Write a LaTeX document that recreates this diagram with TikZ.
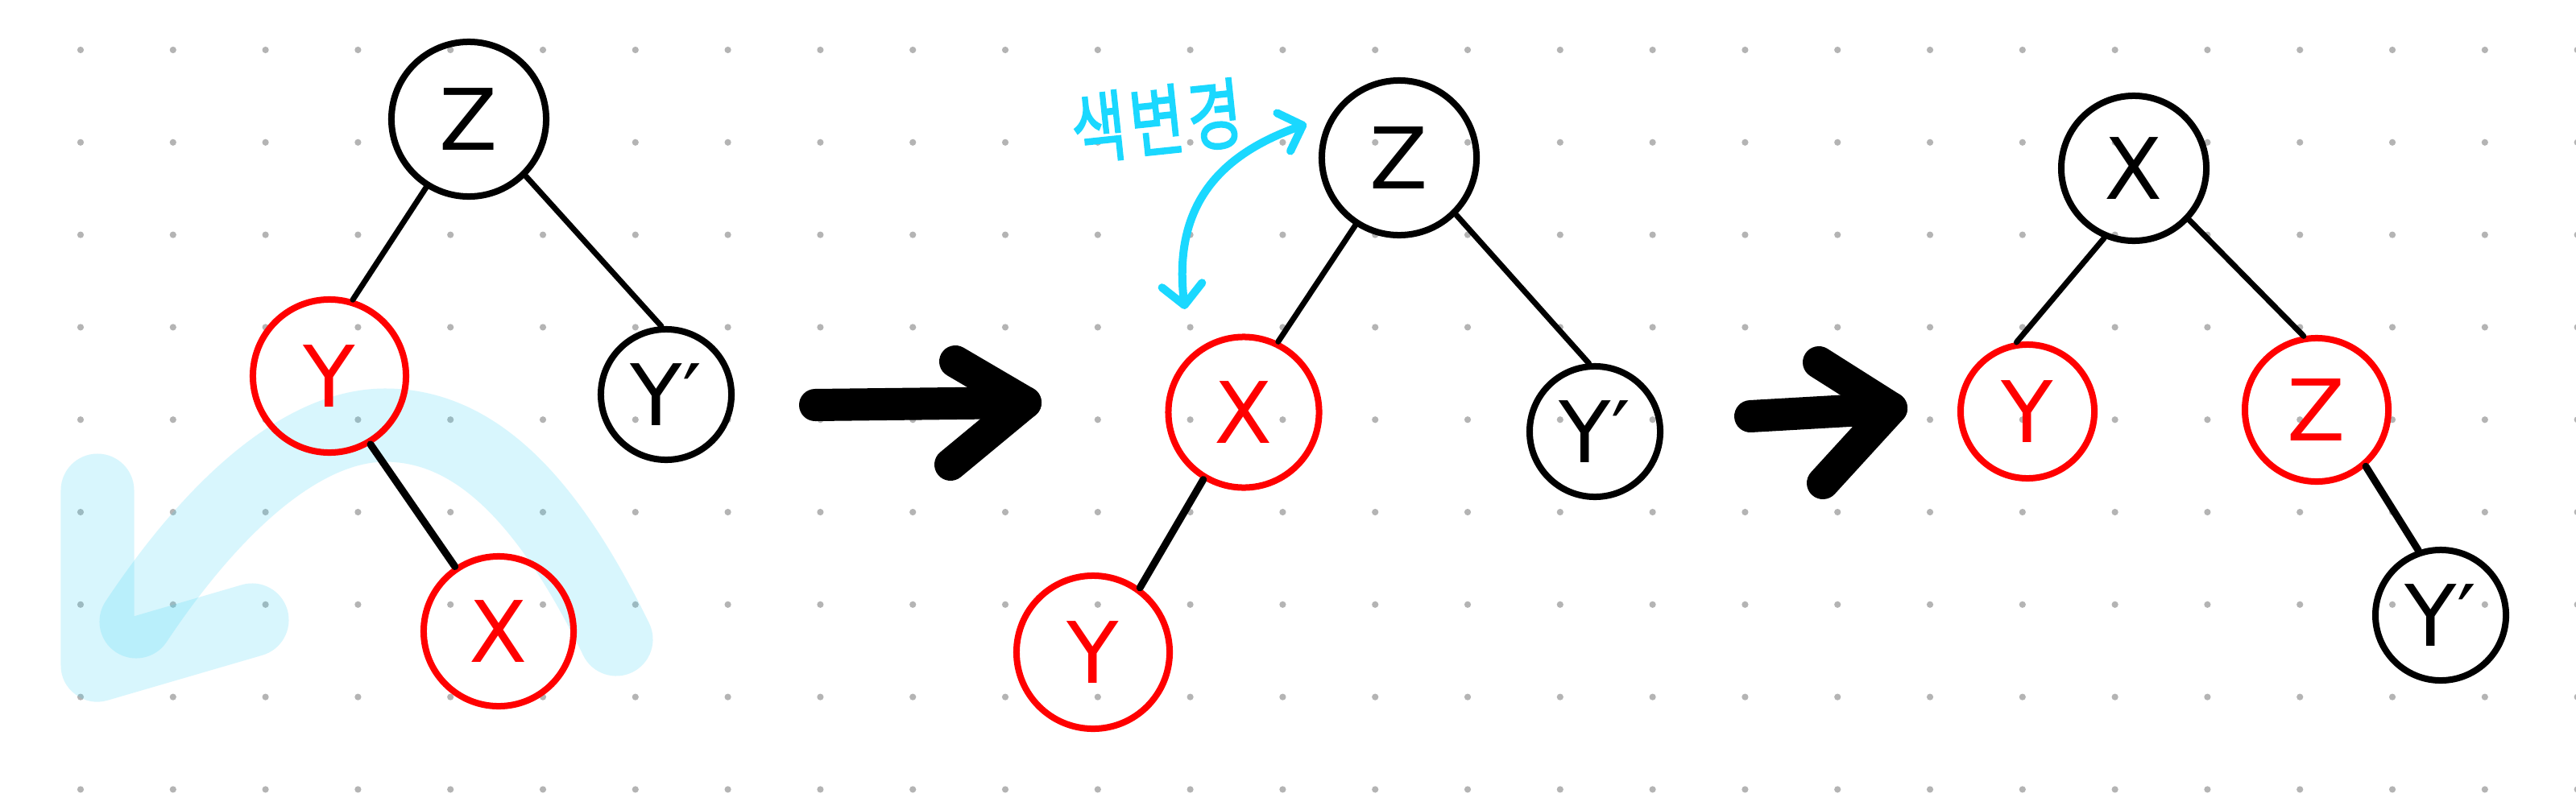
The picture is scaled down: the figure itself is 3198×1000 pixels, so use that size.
\documentclass[tikz,border=0pt]{standalone}
\usepackage{fontspec}
\setmainfont{DejaVu Sans}
\newfontfamily\hangul{Noto Sans CJK KR}[FakeBold=2, LetterSpace=6]
\usetikzlibrary{arrows.meta}
\definecolor{rbred}{HTML}{FF0000}
\definecolor{gridgray}{HTML}{B4B4B4}
\definecolor{marker}{RGB}{63,212,245}
\definecolor{pen}{HTML}{1AD8FF}

\begin{document}
\begin{tikzpicture}[
  x=0.01cm, y=-0.01cm,
  treenode/.style={circle, draw, line width=0.8mm, inner sep=0pt,
    font=\fontsize{30}{32}\selectfont},
  blacknode/.style={treenode, draw=black, text=black},
  rednode/.style={treenode, draw=rbred, text=rbred},
  link/.style={line width=0.7mm, line cap=round},
  hilite/.style={draw=marker, draw opacity=0.2, line width=9.1mm,
    line cap=round, line join=round},
  penline/.style={draw=pen, line width=1mm, line cap=round},
  barb/.style={{Straight Barb[length=2.5mm, width=5mm, round]}-{Straight Barb[length=2.5mm, width=5mm, round]}},
  bigarrow/.style={line width=4mm, line cap=round, line join=round}
]
  \useasboundingbox (0,0) rectangle (3198,1000);
  \fill[white] (0,0) rectangle (3198,1000);

  % dot grid of the notebook page
  \foreach \i in {0,...,27}
    \foreach \j in {0,...,8}
      \fill[gridgray] (100+114.8*\i, 62+114.8*\j) circle[radius=0.041cm];

  % translucent marker stroke over the first tree
  \coordinate (hlr) at (765,794);
  \coordinate (hlt) at (478,528);
  \coordinate (hll) at (169,772);
  \coordinate (hlup) at (121,609);
  \coordinate (hlcorner) at (121,826);
  \coordinate (hltail) at (313,770);
  \draw[hilite] (hlr) .. controls (680,620) and (590,528) .. (hlt)
    .. controls (380,528) and (270,620) .. (hll);
  \draw[hilite] (hlup) -- (hlcorner) -- (hltail);

  % first tree
  \node[blacknode, minimum size=1.92cm] (z1) at (582,148) {Z};
  \node[rednode, minimum size=1.9cm] (y1) at (409,467) {Y};
  \node[blacknode, minimum size=1.62cm] (yp1) at (827,490) {Y′};
  \node[rednode, minimum size=1.86cm] (x1) at (619,784) {X};
  \draw[link] (z1.-122) -- (y1.73);
  \draw[link] (z1.-45) -- (yp1.94);
  \draw[link, line width=0.9mm] (y1.-59) -- (x1.124);

  % first step
  \coordinate (go1s) at (1012,503);
  \coordinate (go1t) at (1273,500);
  \coordinate (go1a) at (1186,449);
  \coordinate (go1b) at (1180,577);
  \draw[bigarrow] (go1s) -- (go1t);
  \draw[bigarrow] (go1a) -- (go1t) -- (go1b);

  % second tree
  \node[blacknode, minimum size=1.92cm] (z2) at (1737,196) {Z};
  \node[rednode, minimum size=1.87cm] (x2) at (1544,512) {X};
  \node[blacknode, minimum size=1.62cm] (yp2) at (1980,536) {Y′};
  \node[rednode, minimum size=1.9cm] (y2) at (1357,810) {Y};
  \draw[link] (z2.-123) -- (x2.64);
  \draw[link] (z2.-45) -- (yp2.95);
  \draw[link, line width=0.9mm] (x2.-121) -- (y2.54);

  % colour swap note
  \coordinate (swapx) at (1471,384);
  \coordinate (swapz) at (1622,154);
  \draw[penline, barb] (swapx) .. controls (1455,250) and (1520,190) .. (swapz);
  \node[text=pen, font=\hangul\fontsize{21}{24}\selectfont, rotate=6, yscale=1.3,
    inner sep=0pt] (swapnote) at (1436,150) {색변경};

  % second step
  \coordinate (go2s) at (2173,517);
  \coordinate (go2t) at (2348,507);
  \coordinate (go2a) at (2258,450);
  \coordinate (go2b) at (2263,600);
  \draw[bigarrow] (go2s) -- (go2t);
  \draw[bigarrow] (go2a) -- (go2t) -- (go2b);

  % third tree
  \node[blacknode, minimum size=1.8cm] (x3) at (2649,209) {X};
  \node[rednode, minimum size=1.66cm] (y3) at (2517,511) {Y};
  \node[rednode, minimum size=1.78cm] (z3) at (2876,509) {Z};
  \node[blacknode, minimum size=1.62cm] (yp3) at (3030,764) {Y′};
  \draw[link] (x3.-113) -- (y3.99);
  \draw[link] (x3.-43) -- (z3.100);
  \draw[link, line width=0.9mm] (z3.-49) -- (yp3.109);
\end{tikzpicture}
\end{document}
